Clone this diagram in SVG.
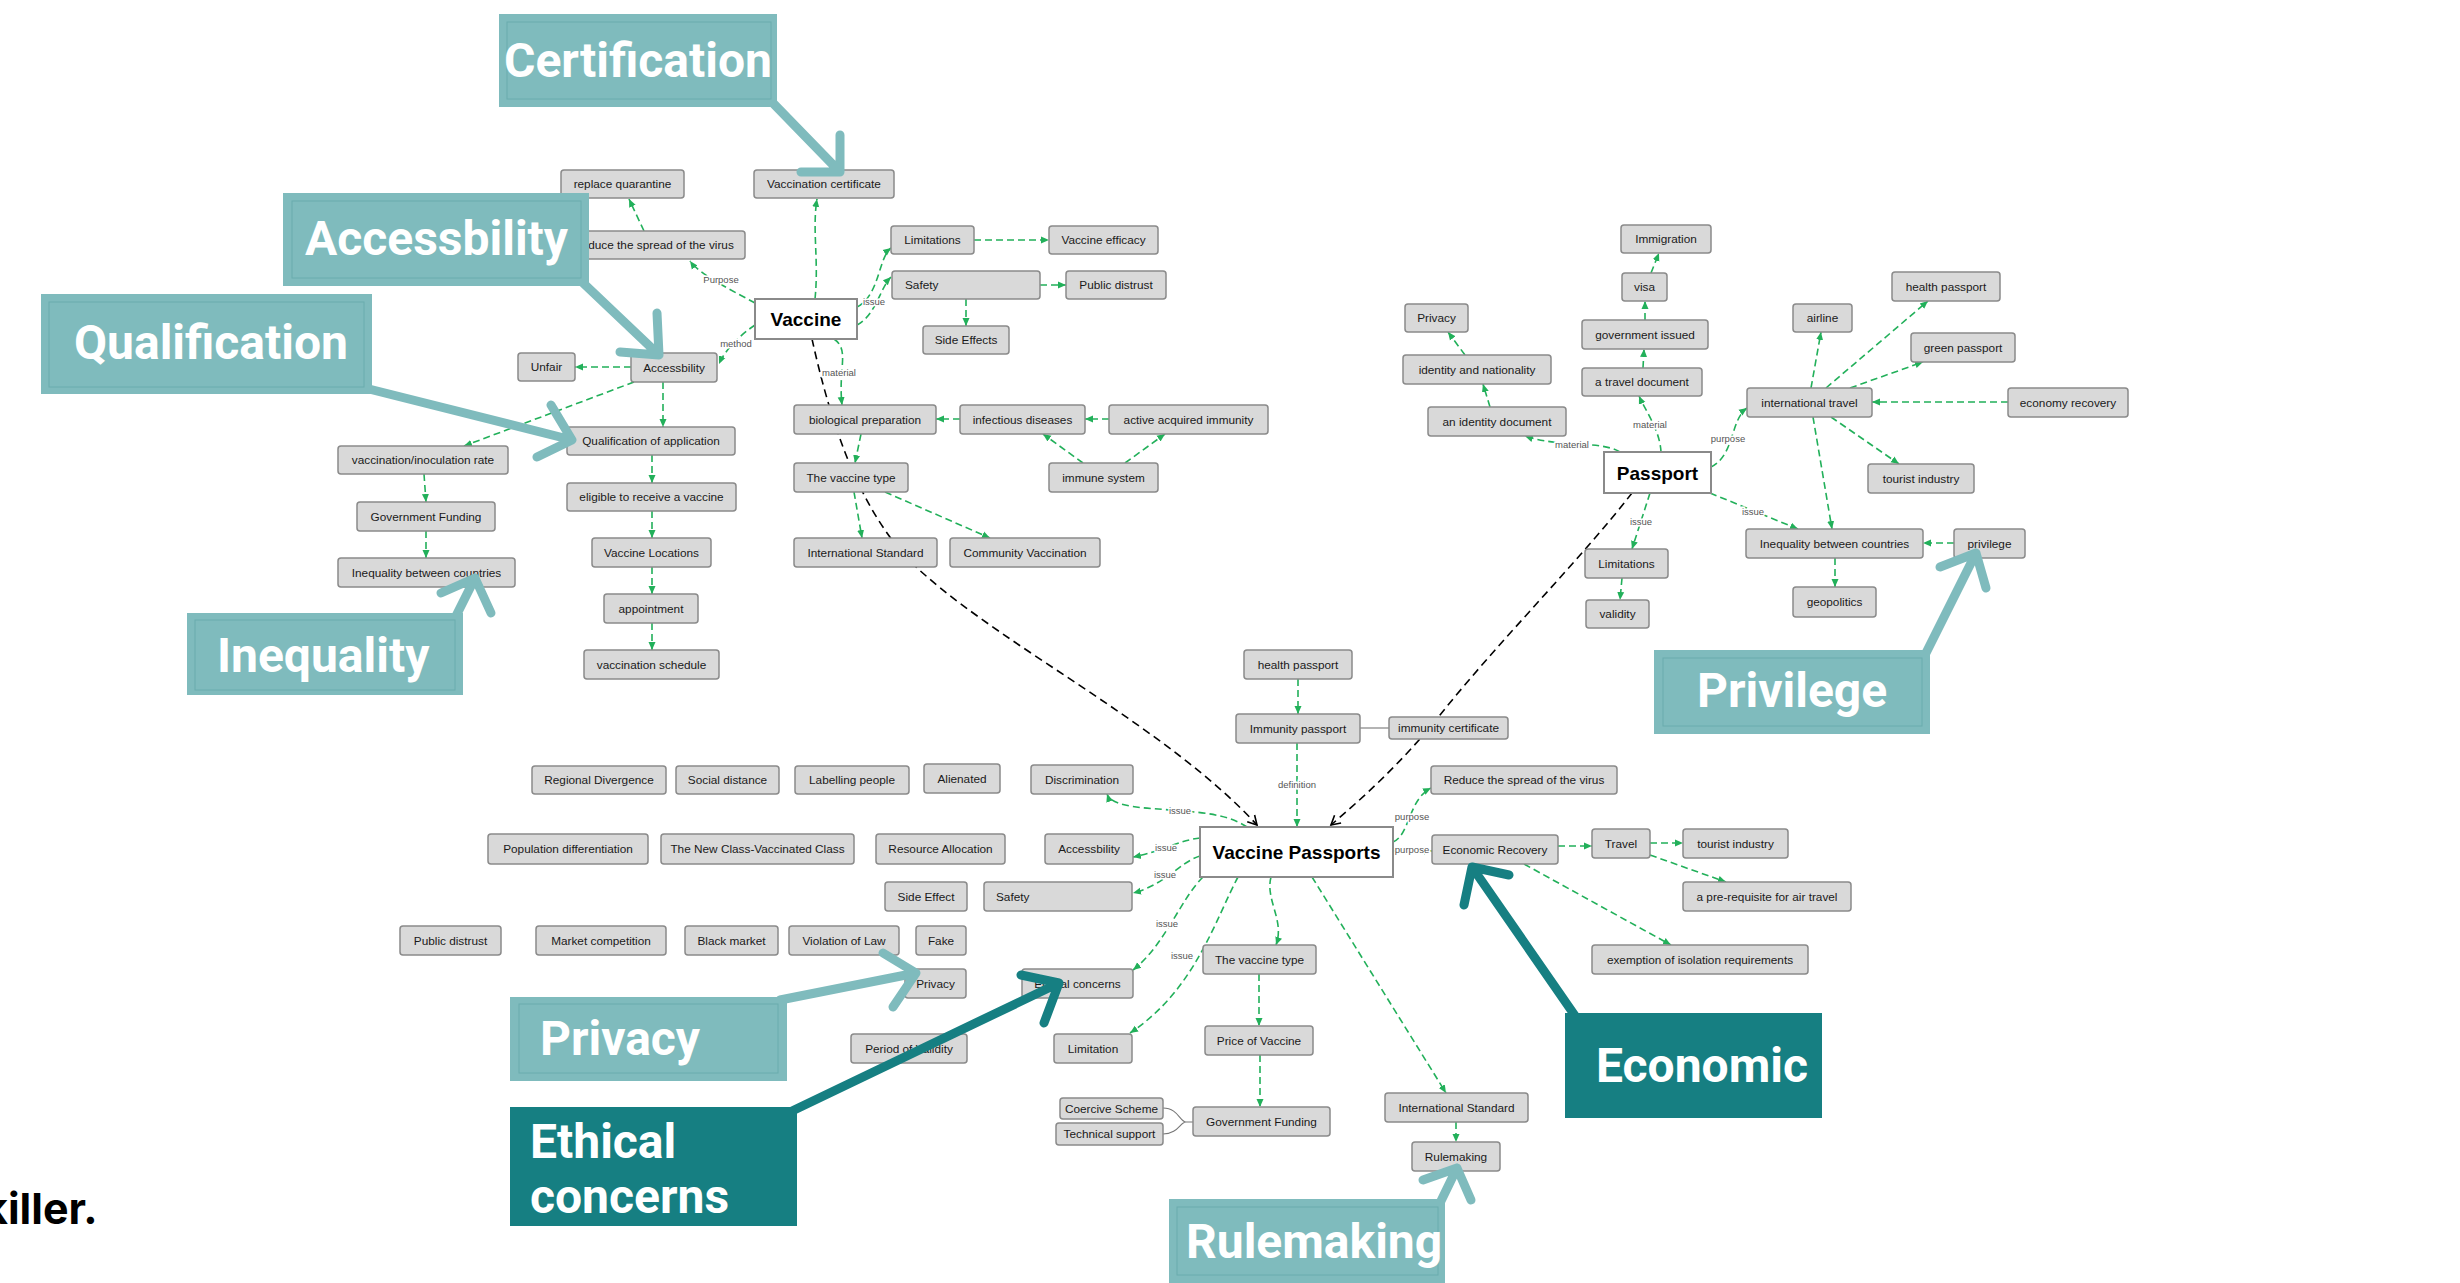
<svg xmlns="http://www.w3.org/2000/svg" width="2460" height="1283" viewBox="0 0 2460 1283">
<defs>
<marker id="ga" markerUnits="userSpaceOnUse" markerWidth="9" markerHeight="9" refX="8" refY="4.5" orient="auto"><path d="M0,1 L8,4.5 L0,8 z" fill="#22b05a"/></marker>
<marker id="ba" markerUnits="userSpaceOnUse" markerWidth="12" markerHeight="12" refX="10" refY="6" orient="auto"><path d="M1,1 L10,6 L1,11" fill="none" stroke="#000" stroke-width="1.6"/></marker>
<style>
.n rect{fill:#d9d9d9;stroke:#8a8a8a;stroke-width:1.5}
.n text,.m text{font-family:"Liberation Sans",Arial,sans-serif;font-size:11.8px;fill:#1a1a1a;text-anchor:middle}
.n text.l{text-anchor:start}
.m rect{fill:#fff;stroke:#8a8a8a;stroke-width:2}
.m text{font-weight:bold;font-size:19px;fill:#000}
.e{fill:none;stroke:#22b05a;stroke-width:1.6;stroke-dasharray:7 4;marker-end:url(#ga)}
.b{fill:none;stroke:#000;stroke-width:1.6;stroke-dasharray:8 5;marker-end:url(#ba)}
.s{fill:none;stroke:#777;stroke-width:1.1}
.lbl{font-family:"Liberation Sans",Arial,sans-serif;font-size:9.5px;fill:#555;text-anchor:middle;stroke:#fff;stroke-width:3;paint-order:stroke}
.co rect.bg{fill:#7fbbbd}
.co rect.in{fill:none;stroke:#6aacae;stroke-width:1}
.cd rect.bg{fill:#167f82}
.co text,.cd text{font-family:Roboto,"Liberation Sans",sans-serif;font-weight:700;font-size:48px;fill:#fff}
.ca{fill:none;stroke:#7fbbbd;stroke-width:9;stroke-linecap:round;stroke-linejoin:round}
.ca.d{stroke:#167f82}
</style>
</defs>
<rect width="2460" height="1283" fill="#fff"/>

<g id="connectors">
<path class="e" d="M755,303 C735,292 700,275 690,261"/>
<path class="e" d="M644,231 L629,199"/>
<path class="e" d="M815,299 C819,260 812,230 817,199"/>
<path class="e" d="M857,307 C880,295 878,258 891,248"/>
<path class="e" d="M857,325 C876,315 880,288 891,277"/>
<path class="e" d="M974,240 L1049,240"/>
<path class="e" d="M1040,285 L1066,285"/>
<path class="e" d="M966,299 L966,326"/>
<path class="e" d="M755,325 C740,335 725,350 719,364"/>
<path class="e" d="M834,339 C850,350 838,368 842,405"/>
<path class="e" d="M631,367 L575,367"/>
<path class="e" d="M663,382 L663,427"/>
<path class="e" d="M634,382 L464,446"/>
<path class="e" d="M424,474 L426,502"/>
<path class="e" d="M426,531 L426,558"/>
<path class="e" d="M652,455 L652,483"/>
<path class="e" d="M652,511 L652,538"/>
<path class="e" d="M652,567 L652,594"/>
<path class="e" d="M652,623 L652,650"/>
<path class="e" d="M960,419 L936,419"/>
<path class="e" d="M1109,419 L1085,419"/>
<path class="e" d="M1083,463 L1043,434"/>
<path class="e" d="M1125,463 L1165,434"/>
<path class="e" d="M861,434 L855,463"/>
<path class="e" d="M854,492 L862,538"/>
<path class="e" d="M885,492 L990,538"/>

<path class="e" d="M1651,273 L1659,253"/>
<path class="e" d="M1645,320 L1645,301"/>
<path class="e" d="M1643,368 L1644,349"/>
<path class="e" d="M1661,452 C1660,430 1645,410 1639,396"/>
<path class="e" d="M1620,452 C1600,440 1560,448 1525,436"/>
<path class="e" d="M1490,407 L1483,384"/>
<path class="e" d="M1465,355 L1448,332"/>
<path class="e" d="M1711,467 C1735,455 1730,420 1747,408"/>
<path class="e" d="M1811,388 L1821,332"/>
<path class="e" d="M1826,388 L1928,301"/>
<path class="e" d="M1850,388 L1923,362"/>
<path class="e" d="M2008,402 L1872,402"/>
<path class="e" d="M1831,417 L1899,464"/>
<path class="e" d="M1813,417 L1832,529"/>
<path class="e" d="M1710,493 L1798,529"/>
<path class="e" d="M1650,493 L1632,549"/>
<path class="e" d="M1622,578 L1620,600"/>
<path class="e" d="M1954,543 L1923,543"/>
<path class="e" d="M1835,558 L1835,587"/>

<path class="e" d="M1298,679 L1298,714"/>
<path class="e" d="M1297,743 L1297,827"/>
<path class="s" d="M1360,728 L1389,728"/>
<path class="e" d="M1393,842 C1410,835 1408,800 1431,788"/>
<path class="e" d="M1393,851 L1432,851"/>
<path class="e" d="M1558,846 L1592,846"/>
<path class="e" d="M1650,843 L1683,843"/>
<path class="e" d="M1650,855 L1726,882"/>
<path class="e" d="M1524,864 L1671,945"/>
<path class="e" d="M1247,827 C1225,812 1190,812 1170,810 S1112,808 1107,794"/>
<path class="e" d="M1200,838 C1180,840 1160,852 1133,857"/>
<path class="e" d="M1200,856 C1180,862 1165,885 1133,893"/>
<path class="e" d="M1203,877 C1180,900 1165,945 1133,970"/>
<path class="e" d="M1238,877 C1215,920 1195,990 1130,1033"/>
<path class="e" d="M1271,877 C1265,900 1285,920 1276,945"/>
<path class="e" d="M1259,974 L1259,1026"/>
<path class="e" d="M1260,1055 L1260,1107"/>
<path class="e" d="M1312,877 L1446,1093"/>
<path class="e" d="M1456,1122 L1456,1142"/>
<path class="s" d="M1163,1108 C1178,1108 1180,1122 1186,1122 M1163,1134 C1178,1134 1180,1122 1186,1122 L1193,1122"/>

<path class="b" d="M812,339 C830,420 860,520 925,575 C1010,650 1170,730 1257,825"/>
<path class="b" d="M1632,493 C1580,560 1500,640 1440,715 C1400,765 1360,800 1331,825"/>

<text class="lbl" x="721" y="283">Purpose</text>
<text class="lbl" x="736" y="347">method</text>
<text class="lbl" x="874" y="305">issue</text>
<text class="lbl" x="839" y="376">material</text>
<text class="lbl" x="1650" y="428">material</text>
<text class="lbl" x="1572" y="448">material</text>
<text class="lbl" x="1728" y="442">purpose</text>
<text class="lbl" x="1753" y="515">issue</text>
<text class="lbl" x="1641" y="525">issue</text>
<text class="lbl" x="1297" y="788">definition</text>
<text class="lbl" x="1412" y="820">purpose</text>
<text class="lbl" x="1412" y="853">purpose</text>
<text class="lbl" x="1180" y="814">issue</text>
<text class="lbl" x="1166" y="851">issue</text>
<text class="lbl" x="1165" y="878">issue</text>
<text class="lbl" x="1167" y="927">issue</text>
<text class="lbl" x="1182" y="959">issue</text>
</g>

<g id="n1" class="n"><rect x="561" y="170" width="123" height="28" rx="3"/><text x="622.5" y="188">replace quarantine</text></g>
<g id="n2" class="n"><rect x="754" y="170" width="140" height="28" rx="3"/><text x="824" y="188">Vaccination certificate</text></g>
<g id="n3" class="n"><rect x="562" y="231" width="183" height="28" rx="3"/><text x="653.5" y="249">Reduce the spread of the virus</text></g>
<g id="n4" class="n"><rect x="891" y="226" width="83" height="28" rx="3"/><text x="932.5" y="244">Limitations</text></g>
<g id="n5" class="n"><rect x="1049" y="226" width="109" height="28" rx="3"/><text x="1103.5" y="244">Vaccine efficacy</text></g>
<g id="n6" class="n"><rect x="892" y="271" width="148" height="28" rx="3"/><text class="l" x="905" y="289">Safety</text></g>
<g id="n7" class="n"><rect x="1066" y="271" width="100" height="28" rx="3"/><text x="1116" y="289">Public distrust</text></g>
<g id="n8" class="n"><rect x="923" y="326" width="86" height="28" rx="3"/><text x="966" y="344">Side Effects</text></g>
<g id="vaccine" class="m"><rect x="755" y="299" width="102" height="40"/><text x="806" y="326">Vaccine</text></g>
<g id="n10" class="n"><rect x="518" y="353" width="57" height="28" rx="3"/><text x="546.5" y="371">Unfair</text></g>
<g id="n11" class="n"><rect x="631" y="353" width="86" height="29" rx="3"/><text x="674" y="371.5">Accessbility</text></g>
<g id="n12" class="n"><rect x="567" y="427" width="168" height="28" rx="3"/><text x="651" y="445">Qualification of application</text></g>
<g id="n13" class="n"><rect x="338" y="446" width="170" height="28" rx="3"/><text x="423" y="464">vaccination/inoculation rate</text></g>
<g id="n14" class="n"><rect x="567" y="483" width="169" height="28" rx="3"/><text x="651.5" y="501">eligible to receive a vaccine</text></g>
<g id="n15" class="n"><rect x="357" y="502" width="138" height="29" rx="3"/><text x="426" y="520.5">Government Funding</text></g>
<g id="n16" class="n"><rect x="592" y="538" width="119" height="29" rx="3"/><text x="651.5" y="556.5">Vaccine Locations</text></g>
<g id="n17" class="n"><rect x="338" y="558" width="177" height="29" rx="3"/><text x="426.5" y="576.5">Inequality between countries</text></g>
<g id="n18" class="n"><rect x="604" y="594" width="94" height="29" rx="3"/><text x="651" y="612.5">appointment</text></g>
<g id="n19" class="n"><rect x="584" y="650" width="135" height="29" rx="3"/><text x="651.5" y="668.5">vaccination schedule</text></g>
<g id="n20" class="n"><rect x="794" y="405" width="142" height="29" rx="3"/><text x="865" y="423.5">biological preparation</text></g>
<g id="n21" class="n"><rect x="960" y="405" width="125" height="29" rx="3"/><text x="1022.5" y="423.5">infectious diseases</text></g>
<g id="n22" class="n"><rect x="1109" y="405" width="159" height="29" rx="3"/><text x="1188.5" y="423.5">active acquired immunity</text></g>
<g id="n23" class="n"><rect x="794" y="463" width="114" height="29" rx="3"/><text x="851" y="481.5">The vaccine type</text></g>
<g id="n24" class="n"><rect x="1049" y="463" width="109" height="29" rx="3"/><text x="1103.5" y="481.5">immune system</text></g>
<g id="n25" class="n"><rect x="794" y="538" width="143" height="29" rx="3"/><text x="865.5" y="556.5">International Standard</text></g>
<g id="n26" class="n"><rect x="950" y="538" width="150" height="29" rx="3"/><text x="1025" y="556.5">Community Vaccination</text></g>

<g id="n27" class="n"><rect x="1621" y="225" width="90" height="28" rx="3"/><text x="1666" y="243">Immigration</text></g>
<g id="n28" class="n"><rect x="1622" y="273" width="45" height="28" rx="3"/><text x="1644.5" y="291">visa</text></g>
<g id="n29" class="n"><rect x="1405" y="304" width="63" height="28" rx="3"/><text x="1436.5" y="322">Privacy</text></g>
<g id="n30" class="n"><rect x="1582" y="320" width="126" height="29" rx="3"/><text x="1645" y="338.5">government issued</text></g>
<g id="n31" class="n"><rect x="1403" y="355" width="148" height="29" rx="3"/><text x="1477" y="373.5">identity and nationality</text></g>
<g id="n32" class="n"><rect x="1582" y="368" width="120" height="28" rx="3"/><text x="1642" y="386">a travel document</text></g>
<g id="n33" class="n"><rect x="1428" y="407" width="138" height="29" rx="3"/><text x="1497" y="425.5">an identity document</text></g>
<g id="n34" class="n"><rect x="1793" y="304" width="59" height="28" rx="3"/><text x="1822.5" y="322">airline</text></g>
<g id="n35" class="n"><rect x="1892" y="272" width="108" height="29" rx="3"/><text x="1946" y="290.5">health passport</text></g>
<g id="n36" class="n"><rect x="1911" y="333" width="104" height="29" rx="3"/><text x="1963" y="351.5">green passport</text></g>
<g id="n37" class="n"><rect x="1747" y="388" width="125" height="29" rx="3"/><text x="1809.5" y="406.5">international travel</text></g>
<g id="n38" class="n"><rect x="2008" y="388" width="120" height="29" rx="3"/><text x="2068" y="406.5">economy recovery</text></g>
<g id="passport" class="m"><rect x="1604" y="452" width="107" height="41"/><text x="1657.5" y="479.5">Passport</text></g>
<g id="n40" class="n"><rect x="1868" y="464" width="106" height="29" rx="3"/><text x="1921" y="482.5">tourist industry</text></g>
<g id="n41" class="n"><rect x="1746" y="529" width="177" height="29" rx="3"/><text x="1834.5" y="547.5">Inequality between countries</text></g>
<g id="n42" class="n"><rect x="1954" y="529" width="71" height="29" rx="3"/><text x="1989.5" y="547.5">privilege</text></g>
<g id="n43" class="n"><rect x="1585" y="549" width="83" height="29" rx="3"/><text x="1626.5" y="567.5">Limitations</text></g>
<g id="n44" class="n"><rect x="1793" y="587" width="83" height="30" rx="3"/><text x="1834.5" y="606">geopolitics</text></g>
<g id="n45" class="n"><rect x="1586" y="600" width="63" height="28" rx="3"/><text x="1617.5" y="618">validity</text></g>

<g id="n46" class="n"><rect x="1244" y="650" width="108" height="29" rx="3"/><text x="1298" y="668.5">health passport</text></g>
<g id="n47" class="n"><rect x="1236" y="714" width="124" height="29" rx="3"/><text x="1298" y="732.5">Immunity passport</text></g>
<g id="n48" class="n"><rect x="1389" y="717" width="119" height="22" rx="3"/><text x="1448.5" y="732">immunity certificate</text></g>
<g id="n49" class="n"><rect x="1431" y="766" width="186" height="28" rx="3"/><text x="1524" y="784">Reduce the spread of the virus</text></g>
<g id="n50" class="n"><rect x="532" y="766" width="134" height="28" rx="3"/><text x="599" y="784">Regional Divergence</text></g>
<g id="n51" class="n"><rect x="676" y="766" width="103" height="28" rx="3"/><text x="727.5" y="784">Social distance</text></g>
<g id="n52" class="n"><rect x="795" y="766" width="114" height="28" rx="3"/><text x="852" y="784">Labelling people</text></g>
<g id="n53" class="n"><rect x="924" y="764" width="76" height="29" rx="3"/><text x="962" y="782.5">Alienated</text></g>
<g id="n54" class="n"><rect x="1031" y="765" width="102" height="29" rx="3"/><text x="1082" y="783.5">Discrimination</text></g>
<g id="vaccine-passports" class="m"><rect x="1200" y="827" width="193" height="50"/><text x="1296.5" y="859">Vaccine Passports</text></g>
<g id="n56" class="n"><rect x="488" y="834" width="160" height="30" rx="3"/><text x="568" y="853">Population differentiation</text></g>
<g id="n57" class="n"><rect x="661" y="834" width="193" height="30" rx="3"/><text x="757.5" y="853">The New Class-Vaccinated Class</text></g>
<g id="n58" class="n"><rect x="876" y="834" width="129" height="30" rx="3"/><text x="940.5" y="853">Resource Allocation</text></g>
<g id="n59" class="n"><rect x="1045" y="834" width="88" height="30" rx="3"/><text x="1089" y="853">Accessbility</text></g>
<g id="n60" class="n"><rect x="1432" y="835" width="126" height="29" rx="3"/><text x="1495" y="853.5">Economic Recovery</text></g>
<g id="n61" class="n"><rect x="1592" y="829" width="58" height="29" rx="3"/><text x="1621" y="847.5">Travel</text></g>
<g id="n62" class="n"><rect x="1683" y="829" width="105" height="29" rx="3"/><text x="1735.5" y="847.5">tourist industry</text></g>
<g id="n63" class="n"><rect x="885" y="882" width="82" height="29" rx="3"/><text x="926" y="900.5">Side Effect</text></g>
<g id="n64" class="n"><rect x="984" y="882" width="148" height="29" rx="3"/><text class="l" x="996" y="900.5">Safety</text></g>
<g id="n65" class="n"><rect x="1683" y="882" width="168" height="29" rx="3"/><text x="1767" y="900.5">a pre-requisite for air travel</text></g>
<g id="n66" class="n"><rect x="400" y="926" width="101" height="29" rx="3"/><text x="450.5" y="944.5">Public distrust</text></g>
<g id="n67" class="n"><rect x="536" y="926" width="130" height="29" rx="3"/><text x="601" y="944.5">Market competition</text></g>
<g id="n68" class="n"><rect x="685" y="926" width="93" height="29" rx="3"/><text x="731.5" y="944.5">Black market</text></g>
<g id="n69" class="n"><rect x="789" y="926" width="110" height="29" rx="3"/><text x="844" y="944.5">Violation of Law</text></g>
<g id="n70" class="n"><rect x="916" y="926" width="50" height="29" rx="3"/><text x="941" y="944.5">Fake</text></g>
<g id="n71" class="n"><rect x="905" y="969" width="61" height="29" rx="3"/><text x="935.5" y="987.5">Privacy</text></g>
<g id="n72" class="n"><rect x="1022" y="969" width="111" height="29" rx="3"/><text x="1077.5" y="987.5">Ethical concerns</text></g>
<g id="n73" class="n"><rect x="1203" y="945" width="113" height="29" rx="3"/><text x="1259.5" y="963.5">The vaccine type</text></g>
<g id="n74" class="n"><rect x="1592" y="945" width="216" height="29" rx="3"/><text x="1700" y="963.5">exemption of isolation requirements</text></g>
<g id="n75" class="n"><rect x="1205" y="1026" width="108" height="29" rx="3"/><text x="1259" y="1044.5">Price of Vaccine</text></g>
<g id="n76" class="n"><rect x="851" y="1034" width="116" height="29" rx="3"/><text x="909" y="1052.5">Period of Validity</text></g>
<g id="n77" class="n"><rect x="1054" y="1034" width="78" height="29" rx="3"/><text x="1093" y="1052.5">Limitation</text></g>
<g id="n78" class="n"><rect x="1060" y="1098" width="103" height="21" rx="3"/><text x="1111.5" y="1112.5">Coercive Scheme</text></g>
<g id="n79" class="n"><rect x="1056" y="1123" width="107" height="22" rx="3"/><text x="1109.5" y="1138">Technical support</text></g>
<g id="n80" class="n"><rect x="1193" y="1107" width="137" height="29" rx="3"/><text x="1261.5" y="1125.5">Government Funding</text></g>
<g id="n81" class="n"><rect x="1385" y="1093" width="143" height="29" rx="3"/><text x="1456.5" y="1111.5">International Standard</text></g>
<g id="n82" class="n"><rect x="1412" y="1142" width="88" height="29" rx="3"/><text x="1456" y="1160.5">Rulemaking</text></g>

<g id="callout-connectors">
<path class="ca" d="M770,100 L840,172 M840,135 L840,172 L801,172"/>
<path class="ca" d="M580,280 L659,355 M657,313 L659,355 L620,352"/>
<path class="ca" d="M365,388 L572,440 M551,405 L572,440 L537,457"/>
<path class="ca" d="M455,618 L475,578 M441,593 L475,578 L491,613"/>
<path class="ca" d="M1925,655 L1976,553 M1940,567 L1976,553 L1986,588"/>
<path class="ca" d="M780,1000 L916,973 M883,953 L916,973 L893,1007"/>
<path class="ca d" d="M790,1112 L1059,983 M1021,975 L1059,983 L1044,1023"/>
<path class="ca d" d="M1578,1020 L1472,867 M1464,905 L1472,867 L1509,875"/>
<path class="ca" d="M1440,1203 L1457,1168 M1423,1180 L1457,1168 L1471,1200"/>
</g>

<g id="callout-certification" class="co"><rect class="bg" x="499" y="14" width="278" height="93"/><rect class="in" x="507" y="22" width="264" height="77"/><text x="504" y="77">Certification</text></g>
<g id="callout-accessbility" class="co"><rect class="bg" x="283" y="193" width="306" height="93"/><rect class="in" x="292" y="201" width="289" height="77"/><text x="305" y="255">Accessbility</text></g>
<g id="callout-qualification" class="co"><rect class="bg" x="41" y="294" width="331" height="100"/><rect class="in" x="49" y="302" width="315" height="85"/><text x="74" y="359">Qualification</text></g>
<g id="callout-inequality" class="co"><rect class="bg" x="187" y="613" width="276" height="82"/><rect class="in" x="195" y="620" width="260" height="70"/><text x="217" y="672">Inequality</text></g>
<g id="callout-privilege" class="co"><rect class="bg" x="1654" y="650" width="276" height="84"/><rect class="in" x="1663" y="658" width="259" height="68"/><text x="1697" y="707">Privilege</text></g>
<g id="callout-privacy" class="co"><rect class="bg" x="510" y="997" width="277" height="84"/><rect class="in" x="519" y="1004" width="259" height="69"/><text x="540" y="1055">Privacy</text></g>
<g id="callout-ethical" class="cd"><rect class="bg" x="510" y="1107" width="287" height="119"/><text x="530" y="1158">Ethical</text><text x="530" y="1213">concerns</text></g>
<g id="callout-economic" class="cd"><rect class="bg" x="1565" y="1013" width="257" height="105"/><text x="1596" y="1082">Economic</text></g>
<g id="callout-rulemaking" class="co"><rect class="bg" x="1169" y="1199" width="276" height="84"/><rect class="in" x="1177" y="1207" width="261" height="68"/><text x="1186" y="1258">Rulemaking</text></g>

<text x="-17" y="1224" font-family="Inter,Roboto,sans-serif" font-weight="700" font-size="43" fill="#000">killer.</text>
</svg>
